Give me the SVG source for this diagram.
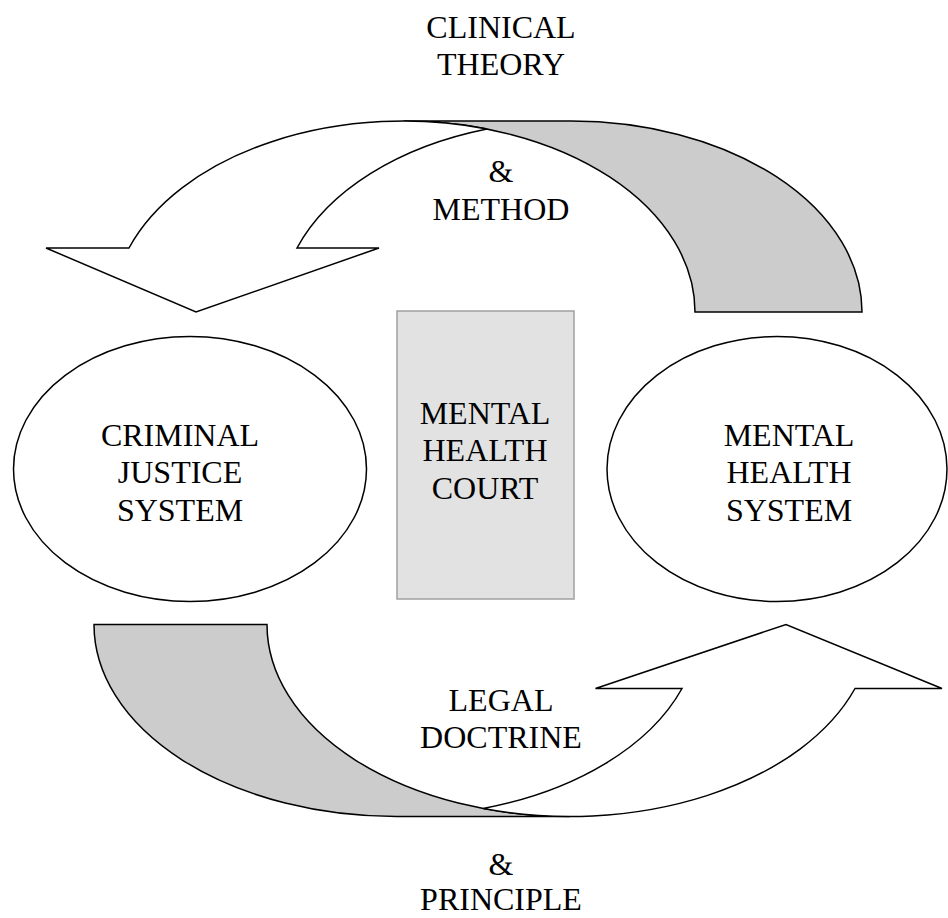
<svg xmlns="http://www.w3.org/2000/svg" width="948" height="918" viewBox="0 0 948 918">
<style>
  text { font-family: "Liberation Serif", "Times New Roman", serif; font-size: 32px; fill: #000; text-anchor: middle; }
  .node { fill: #fff; stroke: #000; stroke-width: 1.5; }
  .court { fill: #e2e2e2; stroke: #a0a0a0; stroke-width: 1.5; }
  .band { fill: #cccccc; stroke: #000; stroke-width: 1.5; stroke-linejoin: miter; }
  .arrow { fill: #fff; stroke: #000; stroke-width: 1.5; stroke-linejoin: miter; }
</style>
<rect width="948" height="918" fill="#fff"/>

<g id="connectors">
  <g id="arrow-clinical">
    <path class="band" d="M 695,312 A 291.5 191 0 0 0 403.5,121 L 571,121 A 291 191 0 0 1 862,312 Z"/>
    <path class="arrow" d="M 129,248 A 291.5 191 0 0 1 487,129 A 291 191 0 0 0 297,248 L 379,248 L 196,312 L 46,248 Z"/>
    <text x="501" y="38">CLINICAL</text>
    <text x="501" y="75">THEORY</text>
    <text x="501" y="182">&amp;</text>
    <text x="501" y="220">METHOD</text>
  </g>
  <g id="arrow-legal">
    <path class="band" d="M 267,624.5 A 302.7 192 0 0 0 569.7,816.5 L 396.6,816.5 A 302.6 192 0 0 1 94,624.5 Z"/>
    <path class="arrow" d="M 855,688.5 A 302.7 192 0 0 1 483.2,808.5 A 302.6 192 0 0 0 682,688.5 L 595.5,688.5 L 786,624.5 L 942,688.5 Z"/>
    <text x="501" y="711">LEGAL</text>
    <text x="501" y="748">DOCTRINE</text>
    <text x="501" y="875">&amp;</text>
    <text x="501" y="910">PRINCIPLE</text>
  </g>
</g>

<g id="node-criminal-justice">
  <ellipse class="node" cx="190" cy="469" rx="176.5" ry="132.5"/>
  <text x="180" y="446">CRIMINAL</text>
  <text x="180" y="483">JUSTICE</text>
  <text x="180" y="521">SYSTEM</text>
</g>

<g id="node-mental-health-court">
  <rect class="court" x="397" y="311" width="177" height="288"/>
  <text x="485" y="424">MENTAL</text>
  <text x="485" y="461">HEALTH</text>
  <text x="485" y="499">COURT</text>
</g>

<g id="node-mental-health-system">
  <ellipse class="node" cx="777" cy="469" rx="170" ry="132.5"/>
  <text x="789" y="446">MENTAL</text>
  <text x="789" y="483">HEALTH</text>
  <text x="789" y="521">SYSTEM</text>
</g>
</svg>
